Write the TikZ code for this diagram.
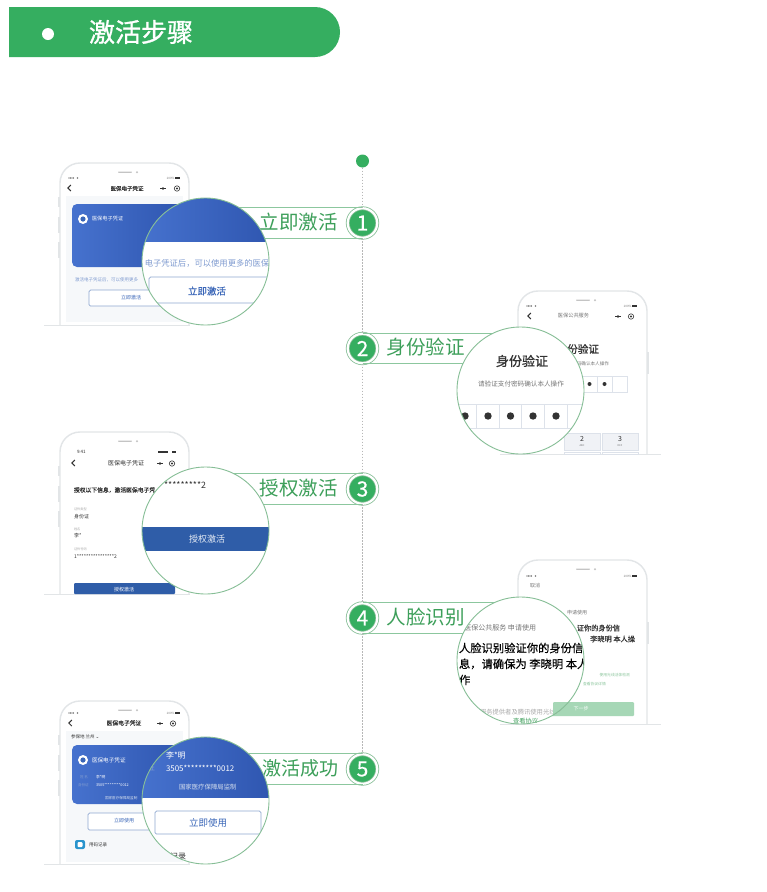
\documentclass[tikz,border=0pt]{standalone}
\usepackage{fontspec}
\setmainfont{Noto Sans CJK SC}
\setsansfont{Noto Sans CJK SC}
\newfontfamily\med[FakeBold=0.35]{Noto Sans CJK SC}
\newfontfamily\hvy[FakeBold=1.1]{Noto Sans CJK SC}
\newfontfamily\djv{DejaVu Sans}
\definecolor{gr}{HTML}{35AE60}
\definecolor{grt}{HTML}{3D9F5A}
\definecolor{rib}{HTML}{8CC79E}
\definecolor{ring}{HTML}{86BE96}
\definecolor{blu}{HTML}{2F5DA8}
\definecolor{cardl}{HTML}{4672CE}
\definecolor{cardr}{HTML}{2F56B0}
\definecolor{btn}{HTML}{8FA8D0}
\definecolor{bluet}{HTML}{3A66B8}
\definecolor{pale}{HTML}{7F9BD0}
\definecolor{phn}{HTML}{E2E5E7}
\definecolor{inner}{HTML}{F6F8FA}
\definecolor{dk}{HTML}{333333}
\definecolor{mid}{HTML}{777777}
\definecolor{lite}{HTML}{AAAAAA}
\definecolor{grbtn}{HTML}{A6D7B6}
\definecolor{keyc}{HTML}{DDE2EA}
\tikzset{
  txt/.style={font=\fontsize{#1}{#1}\selectfont,inner sep=0pt,outer sep=0pt},
  medtxt/.style={font=\fontsize{#1}{#1}\selectfont\med,inner sep=0pt,outer sep=0pt},
  hvytxt/.style={font=\fontsize{#1}{#1}\selectfont\hvy,inner sep=0pt,outer sep=0pt},
  ribbon/.style={draw=rib,line width=0.9pt},
  timeline/.style={draw=lite!85,line width=0.7pt,dash pattern=on 1.4pt off 1.6pt},
  badge/.style={circle,fill=gr,draw=ring,line width=0.8pt,double=white,double distance=2.2pt,
    minimum size=29.5pt,inner sep=0pt,text=white,font=\fontsize{21}{21}\selectfont\med},
  lensbase/.style={circle,minimum size=127pt,inner sep=0pt,outer sep=0pt},
  lens/.style={draw=ring,line width=0.9pt},
  phoneline/.style={draw=phn,line width=1.4pt},
  ground/.style={draw=phn,line width=1pt},
  outlinebtn/.style={draw=btn,line width=0.7pt,fill=white,rounded corners=1.5pt},
  blue card/.style={left color=cardl,right color=cardr,draw=none},
}
\newcommand{\phone}[4]{% x1 x2 top ground
  \draw[phoneline,rounded corners=20pt] (#1,#4) -- (#1,#3) -- (#2,#3) -- (#2,#4);
  \fill[lite!70,rounded corners=0.6pt] ({#1+58},{#3+8.6}) rectangle ({#1+72},{#3+9.8});
  \fill[lite!70] ({#1+77},{#3+9.2}) circle (1.2);
}
\newcommand{\sidekeys}[2]{% x1 top
  \fill[phn] ({#1-1.6},{#2+34}) rectangle ({#1},{#2+44});
  \fill[phn] ({#1-1.6},{#2+54}) rectangle ({#1},{#2+70});
  \fill[phn] ({#1-1.6},{#2+79}) rectangle ({#1},{#2+95});
}
\newcommand{\menu}[3]{% x1 x2 y
  \fill[dk] ({#1-3},{#3+0.1}) rectangle ({#1+3},{#3+0.9});
  \fill[dk] (#1,{#3+0.5}) circle (1.4);
  \draw[dk,line width=0.6pt] (#2,{#3+0.5}) circle (2.7);
  \fill[dk] (#2,{#3+0.5}) circle (1.1);
}
\newcommand{\back}[2]{\draw[dk,line width=1pt] ({#1+1.8},{#2-3}) -- ({#1-1.2},#2) -- ({#1+1.8},{#2+3});}
\newcommand{\statusbar}[4]{% x1 x2 y name
  \foreach \d in {0,1.5,3,4.5}{\fill[dk] ({#1+\d},#3) circle (0.55);}
  \fill[mid] ({#1+8.5},#3) circle (0.9);
  \node[txt=3,text=mid,anchor=east] (#4) at ({#2-5.5},#3) {100\%};
  \fill[dk] ({#2-5},{#3-1}) rectangle (#2,{#3+1});
}
\begin{document}
\begin{tikzpicture}[x=1pt,y=-1pt]
\useasboundingbox (0,0) rectangle (767,892);
\fill[white] (0,0) rectangle (767,892);

% header
\fill[gr] (9,7) -- (315,7) arc[start angle=90,end angle=-90,x radius=25,y radius=-25] -- (9,57) -- cycle;
\fill[white] (48,34) circle (6);
\node[hvytxt=26,text=white] (head) at (141,32) {激活步骤};

% timeline start dot
\node[circle,fill=gr,minimum size=13pt,inner sep=0pt] (top) at (362.5,161) {};

%%%%%%%% STEP 1
\phone{60}{189}{163}{325}
\sidekeys{60}{163}
\draw[ground] (44,325) -- (190,325);
\statusbar{69}{180}{178}{p1st}
\node[medtxt=5.5,text=dk] (p1t) at (127,188.5) {医保电子凭证};
\back{69}{188}\menu{163}{177}{188}
\fill[inner] (66,196) rectangle (183,322);
\path[blue card,rounded corners=5pt] (72,204) rectangle (182,267);
\fill[white] (83,219) circle (5);
\fill[bluet] (83,219) circle (2.6);
\node[txt=5.2,text=white,anchor=west] (p1c) at (92,219) {医保电子凭证};
\node[txt=4.5,text=pale,anchor=west] (p1s) at (75,280) {激活电子凭证后，可以使用更多};
\draw[outlinebtn] (89,290) rectangle (174,306);
\node[txt=5,text=bluet] (p1b) at (131,298) {立即激活};

\node[lensbase] (m1) at (205.5,261.5) {};
\node[badge] (b1) at (362.5,223) {1};
\draw[ribbon] (m1.center |- b1.north) -- (b1.north);
\draw[ribbon] (m1.center |- b1.south) -- (b1.south);
\node[txt=19.5,text=grt] (l1) at (298.5,222) {立即激活};
\begin{scope}
  \clip (m1.center) circle (63.5);
  \fill[white] (140,195) rectangle (272,328);
  \path[blue card] (140,195) rectangle (272,241);
  \node[txt=8.3,text=pale] (m1s) at (207,263) {电子凭证后，可以使用更多的医保};
  \draw[outlinebtn] (149,277) rectangle (290,303);
  \node[medtxt=9.5,text=bluet] (m1b) at (207,291) {立即激活};
\end{scope}
\draw[lens] (m1.center) circle (63.5);

%%%%%%%% STEP 2
\phone{518}{647}{291}{454}
\draw[ground] (500,454) -- (661,454);
\statusbar{527}{637}{306}{p2st}
\node[txt=5.2,text=mid] (p2t) at (573.5,316) {医保公共服务};
\back{529}{316}\menu{618}{631}{316}
\fill[phn] (647,352) rectangle (649,374);
\node[hvytxt=10.6,text=dk,anchor=east] (p2h) at (599,349) {份验证};
\node[txt=4.6,text=mid,anchor=east] (p2s) at (609,364) {码确认本人操作};
\foreach \x in {582,597,612}{\draw[keyc,line width=0.6pt] (\x,376) rectangle ({\x+15},392);}
\fill[dk] (589.5,384) circle (2);
\fill[dk] (604.5,384) circle (2);
\fill[keyc!45] (564,433) rectangle (600,450);
\fill[keyc!45] (602,433) rectangle (638,450);
\draw[keyc,line width=0.6pt] (564,433) rectangle (600,450);
\draw[keyc,line width=0.6pt] (602,433) rectangle (638,450);
\draw[keyc,line width=0.6pt] (564,452) rectangle (600,454);
\draw[keyc,line width=0.6pt] (602,452) rectangle (638,454);
\node[txt=7,text=dk] (k2) at (582,439) {2};
\node[txt=2.5,text=mid] (k2a) at (582,445.5) {ABC};
\node[txt=7,text=dk] (k3) at (620,439) {3};
\node[txt=2.5,text=mid] (k3a) at (620,445.5) {DEF};

\node[lensbase] (m2) at (520.5,390.5) {};
\node[badge] (b2) at (362.5,348.5) {2};
\draw[ribbon] (b2.north) -- (m2.center |- b2.north);
\draw[ribbon] (b2.south) -- (m2.center |- b2.south);
\node[txt=19.5,text=grt] (l2) at (425.5,347.5) {身份验证};
\begin{scope}
  \clip (m2.center) circle (63.5);
  \fill[white] (455,325) rectangle (587,456);
  \node[hvytxt=13,text=dk] (m2h) at (522,361) {身份验证};
  \node[txt=6.6,text=mid] (m2s) at (521,384) {请验证支付密码确认本人操作};
  \foreach \x in {453.5,476.2,499,521.7,544.4,567.1}{\draw[keyc,line width=0.7pt] (\x,404) rectangle ({\x+22.7},428);}
  \foreach \x in {465,488,510.5,533,556}{\fill[dk] (\x,416) circle (3.7);}
\end{scope}
\draw[lens] (m2.center) circle (63.5);

%%%%%%%% STEP 3
\phone{60}{189}{432}{594}
\sidekeys{60}{432}
\draw[ground] (44,594) -- (190,594);
\node[txt=4.5,text=dk,anchor=west] (p3time) at (77,452) {9:41};
\fill[dk] (172,450.7) rectangle (176,453.3);
\fill[dk] (158,451.4) rectangle (168,452.6);
\node[txt=6,text=dk] (p3t) at (126,463) {医保电子凭证};
\back{73}{463}\menu{160}{172}{463}
\node[medtxt=5.8,text=dk,anchor=west] (p3h) at (74,490) {授权以下信息，激活医保电子凭};
\node[txt=3.2,text=lite,anchor=west] (p3a) at (74,509) {证件类型};
\node[txt=5,text=dk,anchor=west] (p3b) at (74,516.5) {身份证};
\node[txt=3.2,text=lite,anchor=west] (p3c) at (74,529) {姓名};
\node[txt=5,text=dk,anchor=west] (p3d) at (74,536) {李*};
\node[txt=3.2,text=lite,anchor=west] (p3e) at (74,549) {证件号码};
\node[txt=5,text=dk,anchor=west] (p3f) at (74,557) {1****************2};
\fill[blu,rounded corners=1pt] (74,583) rectangle (175,594);
\node[txt=5,text=white] (p3g) at (124,590) {授权激活};

\node[lensbase] (m3) at (205.5,530.5) {};
\node[badge] (b3) at (362.5,489) {3};
\draw[ribbon] (m3.center |- b3.north) -- (b3.north);
\draw[ribbon] (m3.center |- b3.south) -- (b3.south);
\node[txt=19.5,text=grt] (l3) at (298.5,488) {授权激活};
\begin{scope}
  \clip (m3.center) circle (63.5);
  \fill[white] (140,465) rectangle (272,596);
  \node[txt=8.8,text=dk,anchor=east] (m3s) at (206,485) {*********2};
  \fill[blu] (140,527) rectangle (272,551);
  \node[txt=9,text=white!88!blu] (m3b) at (207,539) {授权激活};
\end{scope}
\draw[lens] (m3.center) circle (63.5);

%%%%%%%% STEP 4
\phone{518}{647}{560}{724}
\draw[ground] (500,724) -- (661,724);
\statusbar{527}{637}{576}{p4st}
\node[txt=5,text=mid] (p4t) at (535,586) {取消};
\fill[phn] (647,622) rectangle (649,644);
\node[txt=5,text=mid,anchor=east] (p4a) at (587,613) {申请使用};
\node[medtxt=7.2,text=dk,anchor=east] (p4b) at (620,628) {证你的身份信};
\node[medtxt=7.2,text=dk,anchor=east] (p4c) at (635,639) {李晓明 本人操};
\node[txt=3.8,text=grt!60,anchor=east] (p4d) at (630,675) {使用光线活体检测};
\node[txt=3.8,text=grt!60,anchor=west] (p4e) at (583,684) {查看协议详情};
\fill[grbtn,rounded corners=1pt] (550,702) rectangle (634,716);
\node[txt=5,text=white] (p4f) at (581,709) {下一步};

\node[lensbase] (m4) at (520.5,660.5) {};
\node[badge] (b4) at (362.5,618) {4};
\draw[ribbon] (b4.north) -- (m4.center |- b4.north);
\draw[ribbon] (b4.south) -- (m4.center |- b4.south);
\node[txt=19.5,text=grt] (l4) at (425.5,617) {人脸识别};
\begin{scope}
  \clip (m4.center) circle (63.5);
  \fill[white] (455,595) rectangle (587,726);
  \node[txt=7,text=mid,anchor=east] (m4a) at (536,628) {医保公共服务 申请使用};
  \node[medtxt=11.3,text=black,anchor=west] (m4b) at (459,648) {人脸识别验证你的身份信};
  \node[medtxt=11.3,text=black,anchor=west] (m4c) at (459,664) {息，请确保为 李晓明 本人操};
  \node[medtxt=11.3,text=black,anchor=west] (m4d) at (459,680) {作};
  \node[txt=6.3,text=lite,anchor=west] (m4e) at (480,712) {服务提供者及腾讯使用光线活体};
  \node[txt=6.3,text=grt,anchor=west] (m4f) at (513,721) {查看协议};
  \fill[grbtn,rounded corners=1pt] (553,702) rectangle (590,716);
\end{scope}
\draw[lens] (m4.center) circle (63.5);

%%%%%%%% STEP 5
\phone{60}{189}{701}{864}
\sidekeys{60}{701}
\draw[ground] (44,864) -- (190,864);
\statusbar{69}{180}{713}{p5st}
\node[medtxt=5.8,text=dk] (p5t) at (124,723) {医保电子凭证};
\back{70}{723}\menu{160}{173}{723}
\fill[inner] (66,731) rectangle (183,862);
\node[txt=4.5,text=dk,anchor=west] (p5a) at (71,736.5) {参保地 兰州 {\djv ⌄}};
\path[blue card,rounded corners=5pt] (72,745) rectangle (182,804);
\fill[white] (83,760) circle (5);
\fill[bluet] (83,760) circle (2.6);
\node[txt=5.6,text=white,anchor=west] (p5b) at (92,760) {医保电子凭证};
\node[txt=3.6,text=pale,anchor=west] (p5c) at (80,777) {姓 名};
\node[txt=3.8,text=white,anchor=west] (p5d) at (96,777) {李*明};
\node[txt=3.6,text=pale,anchor=west] (p5e) at (78,785) {身份证};
\node[txt=3.8,text=white,anchor=west] (p5f) at (96,785) {3505*********0012};
\node[txt=3.6,text=white!80!blu,anchor=west] (p5g) at (105,798) {国家医疗保障局监制};
\draw[outlinebtn,fill=white] (88,813) rectangle (172,830);
\node[txt=5,text=bluet] (p5h) at (124,821) {立即使用};
\fill[bluet!70!cyan,rounded corners=2pt] (75,840) rectangle (85,849);
\fill[white,rounded corners=1pt] (77.5,842) rectangle (82.5,847);
\node[txt=4.5,text=dk,anchor=west] (p5i) at (89,844.5) {用码记录};

\node[lensbase] (m5) at (205.5,800.5) {};
\node[badge] (b5) at (362.5,769) {5};
\draw[ribbon] (m5.center |- b5.north) -- (b5.north);
\draw[ribbon] (m5.center |- b5.south) -- (b5.south);
\node[txt=19,text=grt] (l5) at (300,768) {激活成功};
\begin{scope}
  \clip (m5.center) circle (63.5);
  \fill[white] (140,735) rectangle (272,866);
  \path[blue card] (140,735) rectangle (272,797);
  \node[txt=7.5,text=pale] (m5a) at (151,768) {证};
  \node[txt=8,text=white,anchor=west] (m5b) at (166,755) {李*明};
  \node[txt=7.9,text=white,anchor=west] (m5c) at (166,768) {3505*********0012};
  \node[txt=6.4,text=white!80!blu,anchor=west] (m5d) at (179,787) {国家医疗保障局监制};
  \draw[outlinebtn] (155,811) rectangle (261,834);
  \node[txt=9.5,text=bluet] (m5e) at (208,823) {立即使用};
  \node[txt=8,text=dk,anchor=west] (m5f) at (170,857) {记录};
\end{scope}
\draw[lens] (m5.center) circle (63.5);

% timeline connectors
\draw[timeline] (top) -- (b1);
\draw[timeline] (b1) -- (b2);
\draw[timeline] (b2) -- (b3);
\draw[timeline] (b3) -- (b4);
\draw[timeline] (b4) -- (b5);
\end{tikzpicture}
\end{document}
